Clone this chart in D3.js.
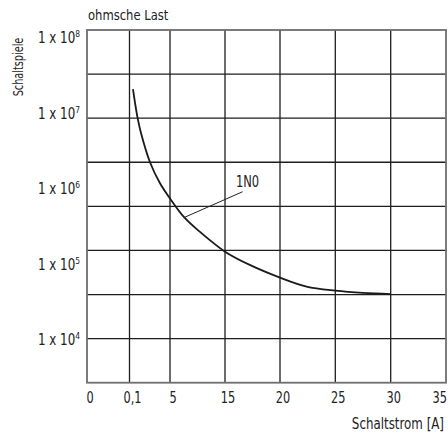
<!DOCTYPE html>
<html>
<head>
<meta charset="utf-8">
<script src="https://cdn.jsdelivr.net/npm/d3@7"></script>
<style>
  html, body { margin: 0; padding: 0; background: #fff; }
  svg { display: block; }
  text { font-family: "Liberation Sans Narrow", "DejaVu Sans Condensed", "Roboto Condensed", sans-serif; fill: #222; }
</style>
</head>
<body>
<svg id="chart" width="448" height="434"></svg>
<script>
// ---- data ----
const title = "ohmsche Last";
const yAxisTitle = "Schaltspiele";
const xAxisTitle = "Schaltstrom [A]";
const xTicks = [0, 0.1, 5, 15, 20, 25, 30, 35];
const xTickLabels = ["0", "0,1", "5", "15", "20", "25", "30", "35"];
const yExponents = [8, 7, 6, 5, 4];
const gridRows = 8;
const seriesName = "1N0";
const current = [0.52, 0.77, 1.09, 1.49, 2.58, 3.79, 5, 7.6, 10.45, 15, 17.3, 20, 22.4, 25, 27.5, 30];
const cycles  = [2.1e7, 1.38e7, 8.6e6, 5.5e6, 2.26e6, 1.19e6, 7.5e5, 4.2e5, 2.7e5, 1.48e5, 9.8e4, 6.7e4, 5.1e4, 4.5e4, 4.2e4, 4.06e4];
const leaderFrom = [7.6, 4.2e5];
const leaderTo = [16.6, 9.2e5];
const labelAt = [16, 1.07e6];

// ---- layout ----
const W = 448;
const svg = d3.select("#chart");
const pLeft = 87, pRight = 446, pTop = 30, pBottom = 382.7;

// piecewise x scale (the original axis is not uniform)
const x = d3.scaleLinear()
  .domain(xTicks)
  .range([87, 129.5, 170, 225, 280, 335.3, 390.7, 446]);
const y = d3.scaleLog().domain([1e4, 1e8]).range([340, 38]);
const row = d3.scaleLinear().domain([0, gridRows]).range([pTop, pBottom]);

// text placed with a horizontal squeeze to mimic the narrow original typeface
function label(parent, px, py, k, extra) {
  return parent.append("text")
    .attr("transform", `translate(${px},${py}) ${extra || ""} scale(${k},1)`);
}

// inner grid
const g = svg.append("g");
g.selectAll("line.v").data(xTicks.slice(1, -1)).join("line")
  .attr("x1", d => x(d)).attr("x2", d => x(d))
  .attr("y1", pTop).attr("y2", pBottom)
  .attr("stroke", "#1e1e1e").attr("stroke-width", 1.3);
g.selectAll("line.h").data(d3.range(1, gridRows)).join("line")
  .attr("x1", pLeft).attr("x2", pRight)
  .attr("y1", d => row(d)).attr("y2", d => row(d))
  .attr("stroke", "#1e1e1e").attr("stroke-width", 1.3);
// frame
g.append("rect").attr("x", pLeft).attr("y", pTop)
  .attr("width", pRight - pLeft).attr("height", pBottom - pTop)
  .attr("fill", "none").attr("stroke", "#6e6e6e").attr("stroke-width", 1.8);

// curve
const pts = current.map((c, i) => [c, cycles[i]]);
svg.append("path")
  .datum(pts)
  .attr("fill", "none").attr("stroke", "#1a1a1a").attr("stroke-width", 1.8)
  .attr("d", d3.line().x(d => x(d[0])).y(d => y(d[1])).curve(d3.curveCatmullRom.alpha(0.5)));

// leader + label
svg.append("line")
  .attr("x1", x(leaderFrom[0])).attr("y1", y(leaderFrom[1]))
  .attr("x2", x(leaderTo[0])).attr("y2", y(leaderTo[1]))
  .attr("stroke", "#222").attr("stroke-width", 1);
label(svg, x(labelAt[0]), y(labelAt[1]), 0.85).attr("font-size", 15).text(seriesName);

// y labels
yExponents.forEach(e => {
  const t = label(svg, 80, y(Math.pow(10, e)), 0.88)
    .attr("dy", "0.36em").attr("text-anchor", "end").attr("font-size", 15);
  t.append("tspan").text("1 x 10");
  t.append("tspan").attr("dy", -6).attr("font-size", 9.5).text(e);
});

// x labels
xTicks.forEach((d, i) => {
  let px = x(d) + 3;
  const t = label(svg, px, 403, 0.84).attr("text-anchor", "middle").attr("font-size", 15).text(xTickLabels[i]);
  const r = t.node().getBoundingClientRect();
  if (r.right > W - 1) {
    px -= r.right - (W - 1);
    t.attr("transform", `translate(${px},403) scale(0.84,1)`);
  }
});

// titles
label(svg, 88, 20, 0.92).attr("font-size", 14).text(title);
label(svg, 23, 67, 0.8, "rotate(-90)").attr("text-anchor", "middle").attr("font-size", 13.5).text(yAxisTitle);
label(svg, 444, 429, 0.88).attr("text-anchor", "end").attr("font-size", 15).text(xAxisTitle);
</script>
</body>
</html>
